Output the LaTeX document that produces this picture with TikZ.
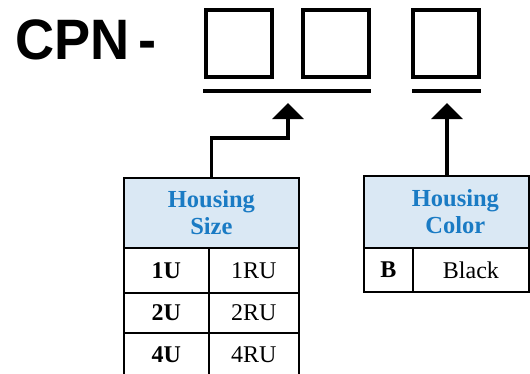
\documentclass[tikz,border=0pt]{standalone}
\usepackage{fontspec}
\setmainfont{Liberation Serif}
\newfontfamily\cpnfont{Liberation Sans}
\usetikzlibrary{positioning,arrows.meta}
\definecolor{headfill}{HTML}{DAE8F4}
\definecolor{headtext}{HTML}{1A7BC4}
\tikzset{
  digit/.style={draw, line width=4pt, minimum width=66pt, minimum height=67pt},
  uline/.style={line width=4pt},
  arr/.style={line width=3.5pt, -{Triangle[length=16pt,width=31pt]}},
  head/.style={draw, line width=1.8pt, fill=headfill, text=headtext, align=center,
    font=\fontsize{24.5}{27}\selectfont\bfseries, anchor=north west, inner sep=0pt},
  cell/.style={draw, line width=1.8pt, anchor=north west, inner sep=0pt,
    font=\fontsize{24}{26}\selectfont}
}
\begin{document}
\begin{tikzpicture}[x=1pt,y=-1pt]
  \useasboundingbox (0,0) rectangle (530,373);
  % part number
  \node[anchor=base west, inner sep=0pt, font=\cpnfont\fontsize{57}{60}\selectfont\bfseries, xscale=0.95] (cpn) at (15,59) {CPN\hspace{10pt}-};
  \node[digit] (box1) at (239,43.5) {};
  \node[digit] (box2) at (336,43.5) {};
  \node[digit] (box3) at (446,43.5) {};
  \coordinate (size) at (203,90.5);
  \draw[uline] (size) -- (371,90.5);
  \draw[uline] (412,90.5) -- (481,90.5);
  \coordinate (sizetip) at (288,103);
  \coordinate (colortip) at (447,103);
  % housing size table
  \node[head, minimum width=175pt, minimum height=70pt] (sizehead) at (123,177) {Housing\\Size};
  \foreach \y/\h/\a/\b in {247/45/1U/1RU, 292/40/2U/2RU, 332/44/4U/4RU} {
    \node[cell, minimum width=85pt, minimum height=\h pt, font=\fontsize{24}{26}\selectfont\bfseries] (s\a) at (123,\y) {\a};
    \node[cell, minimum width=90pt, minimum height=\h pt] (s\b) at (208,\y) {\b};
  }
  % housing color table
  \node[head, minimum width=165pt, minimum height=72pt] (colorhead) at (363,175) {\hspace{18pt}Housing\\\hspace{18pt}Color};
  \node[cell, minimum width=49pt, minimum height=44pt, font=\fontsize{24}{26}\selectfont\bfseries] (cb) at (363,247) {B};
  \node[cell, minimum width=116pt, minimum height=44pt] (cblack) at (412,247) {Black};
  % arrows
  \draw[arr] (sizehead.north) -- ++(0,-39) -| (sizetip);
  \draw[arr] (colorhead.north -| colortip) -- (colortip);
\end{tikzpicture}
\end{document}
